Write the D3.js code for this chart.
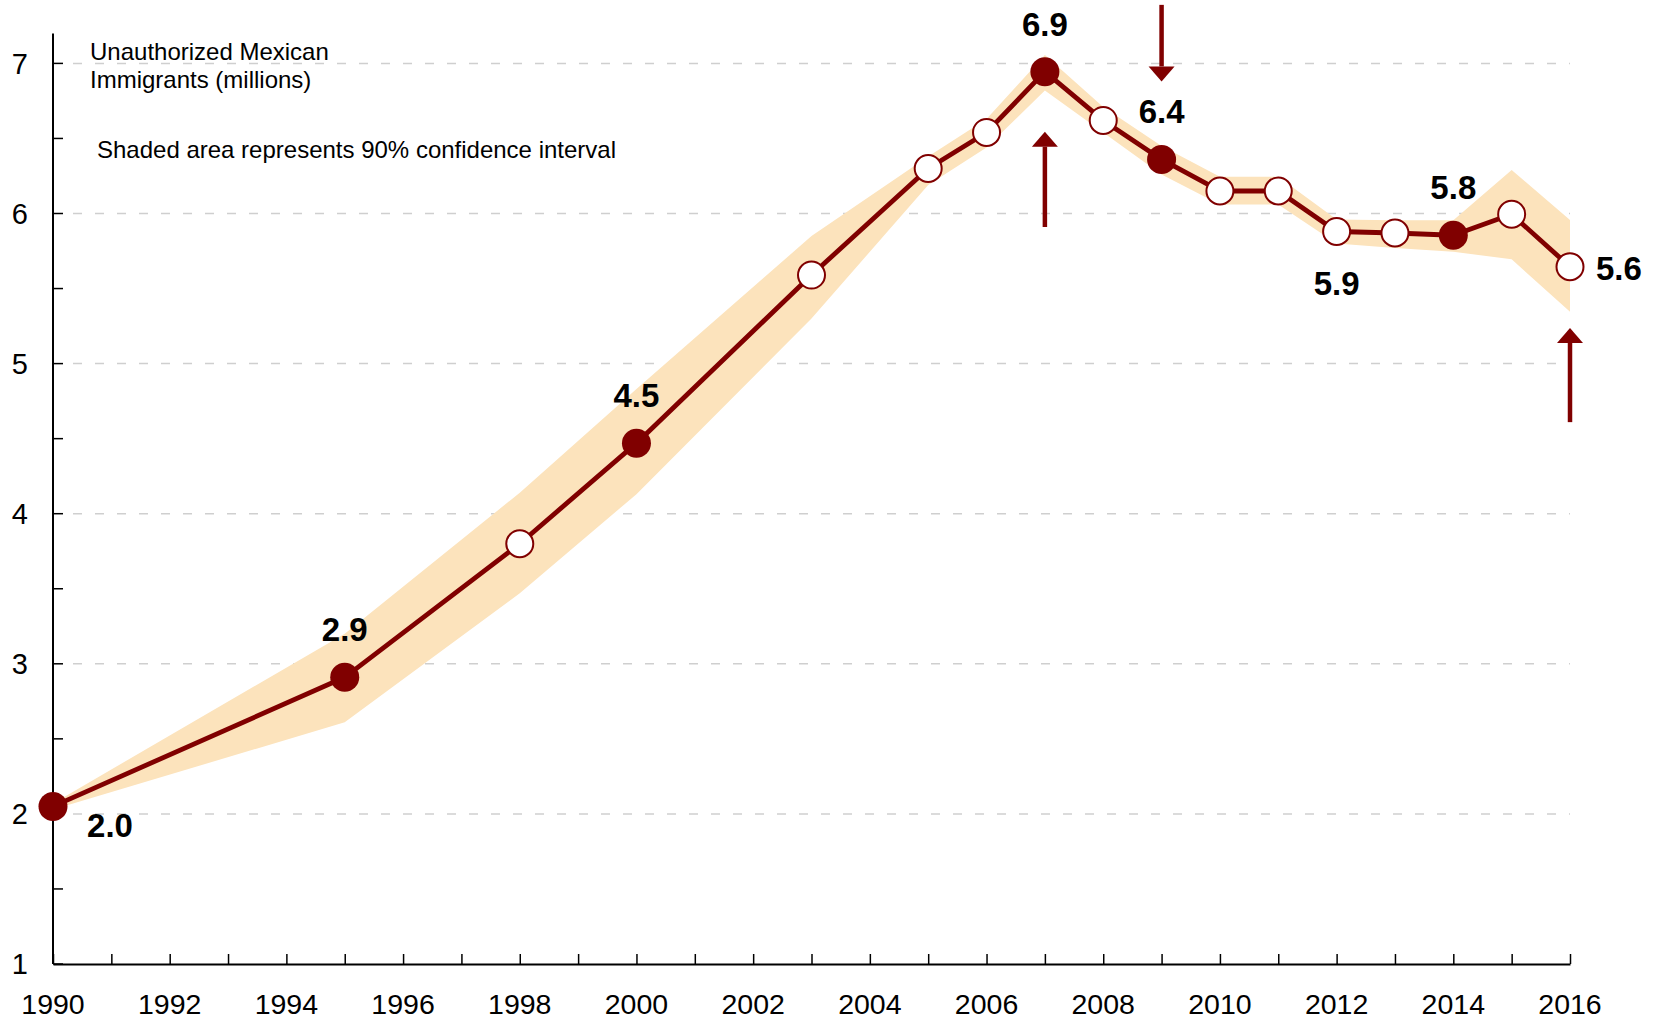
<!DOCTYPE html>
<html>
<head>
<meta charset="utf-8">
<script src="https://cdn.jsdelivr.net/npm/d3@7"></script>
<style>
  body { margin: 0; background: #fff; }
  svg { display: block; font-family: "Liberation Sans", Arial, Helvetica, sans-serif; }
</style>
</head>
<body>
<svg id="chart"></svg>
<script>
// data (millions)
var years =   [1990, 1995, 1998, 2000, 2003, 2005, 2006, 2007, 2008, 2009, 2010, 2011, 2012, 2013, 2014, 2015, 2016]
var values =  [2.05, 2.91, 3.80, 4.47, 5.59, 6.30, 6.54, 6.945, 6.62, 6.36, 6.15, 6.15, 5.88, 5.87, 5.855, 5.995, 5.645]
var lower =   [2.03, 2.61, 3.47, 4.13, 5.30, 6.19, 6.44, 6.82, 6.54, 6.26, 6.06, 6.06, 5.80, 5.77, 5.745, 5.695, 5.345]
var upper =   [2.07, 3.20, 4.14, 4.83, 5.85, 6.38, 6.63, 7.056, 6.71, 6.45, 6.245, 6.245, 5.96, 5.955, 5.955, 6.29, 5.957]
// highlighted years are drawn as solid dots
var solidYears = [1990, 1995, 2000, 2007, 2009, 2014]

var labelYears = [1990, 1995, 2000, 2007, 2009, 2012, 2014, 2016]
var labelTexts = ["2.0", "2.9", "4.5", "6.9", "6.4", "5.9", "5.8", "5.6"]
var labelSides = ["belowright", "above", "above", "above", "above", "below", "above", "right"]

// arrows: year, tail value, tip value
var arrowYears = [2009, 2007, 2016]
var arrowFrom =  [7.39, 5.91, 4.61]
var arrowTo =    [6.88, 6.545, 5.237]

var yTicks = [1, 2, 3, 4, 5, 6, 7]
var yMinor = [1.5, 2.5, 3.5, 4.5, 5.5, 6.5]
var xLabelYears = d3.range(1990, 2017, 2)

var titleLines = ["Unauthorized Mexican", "Immigrants (millions)"]
var noteText = "Shaded area represents 90% confidence interval"

var width = 1658
var height = 1022
var red = "#800000"

var svg = d3.select("#chart").attr("width", width).attr("height", height)

var x = d3.scaleLinear().domain([1990, 2016]).range([53, 1570])
var y = d3.scaleLinear().domain([1, 7]).range([964, 63.4])

var rows = years.map(function (yr, i) {
  return { year: yr, value: values[i], lo: lower[i], hi: upper[i], solid: solidYears.indexOf(yr) > -1 }
})

// gridlines
svg.append("g")
  .selectAll("line")
  .data(yTicks.slice(1))
  .enter().append("line")
    .attr("x1", x(1990) + 20).attr("x2", x(2016))
    .attr("y1", function (d) { return y(d) }).attr("y2", function (d) { return y(d) })
    .attr("stroke", "#cfcfcf").attr("stroke-width", 1.5)
    .attr("stroke-dasharray", "9,13")

// confidence band
var band = d3.area()
  .x(function (d) { return x(d.year) })
  .y0(function (d) { return y(d.lo) })
  .y1(function (d) { return y(d.hi) })

svg.append("path")
  .datum(rows)
  .attr("d", band)
  .attr("fill", "#fce3bc")

// axes
var xAxis = d3.axisBottom(x)
  .tickValues(d3.range(1990, 2017, 1))
  .tickSize(-10)
  .tickSizeOuter(0)
  .tickFormat("")

var gx = svg.append("g")
  .attr("transform", "translate(0," + y(1) + ")")
  .call(xAxis)
gx.select(".domain").attr("stroke", "#000").attr("stroke-width", 2)
gx.selectAll(".tick line").attr("stroke", "#000").attr("stroke-width", 1.5)

svg.append("g")
  .selectAll("text")
  .data(xLabelYears)
  .enter().append("text")
    .attr("x", function (d) { return x(d) })
    .attr("y", y(1) + 50)
    .attr("text-anchor", "middle")
    .attr("font-size", 28.5)
    .attr("fill", "#000")
    .text(function (d) { return d })

// y axis line reaches a little above 7
svg.append("line")
  .attr("x1", x(1990)).attr("x2", x(1990))
  .attr("y1", y(1)).attr("y2", y(7.2))
  .attr("stroke", "#000").attr("stroke-width", 2)

svg.append("g")
  .selectAll("line")
  .data(yTicks.concat(yMinor))
  .enter().append("line")
    .attr("x1", x(1990)).attr("x2", x(1990) + 10)
    .attr("y1", function (d) { return y(d) }).attr("y2", function (d) { return y(d) })
    .attr("stroke", "#000").attr("stroke-width", 1.5)

svg.append("g")
  .selectAll("text")
  .data(yTicks)
  .enter().append("text")
    .attr("x", 28)
    .attr("y", function (d) { return y(d) })
    .attr("dy", "0.35em")
    .attr("text-anchor", "end")
    .attr("font-size", 29)
    .attr("fill", "#000")
    .text(function (d) { return d })

// main line
var line = d3.line()
  .x(function (d) { return x(d.year) })
  .y(function (d) { return y(d.value) })

svg.append("path")
  .datum(rows)
  .attr("d", line)
  .attr("fill", "none")
  .attr("stroke", red)
  .attr("stroke-width", 4.8)
  .attr("stroke-linejoin", "round")

svg.append("g")
  .selectAll("circle")
  .data(rows)
  .enter().append("circle")
    .attr("cx", function (d) { return x(d.year) })
    .attr("cy", function (d) { return y(d.value) })
    .attr("r", function (d) { return d.solid ? 14.5 : 13.5 })
    .attr("fill", function (d) { return d.solid ? red : "#fff" })
    .attr("stroke", red)
    .attr("stroke-width", function (d) { return d.solid ? 0 : 2 })

// value labels
svg.append("g")
  .selectAll("text")
  .data(labelYears)
  .enter().append("text")
    .attr("x", function (d, i) {
      var px = x(d)
      if (labelSides[i] == "right") return px + 26
      if (labelSides[i] == "belowright") return px + 57
      return px
    })
    .attr("y", function (d, i) {
      var py = y(values[years.indexOf(d)])
      if (labelSides[i] == "above") return py - 36
      if (labelSides[i] == "below") return py + 63
      if (labelSides[i] == "right") return py + 13
      return py + 31
    })
    .attr("text-anchor", function (d, i) { return labelSides[i] == "right" ? "start" : "middle" })
    .attr("font-size", 33)
    .attr("font-weight", "bold")
    .attr("fill", "#000")
    .text(function (d, i) { return labelTexts[i] })

// arrows
var arrows = svg.append("g")
arrowYears.forEach(function (yr, i) {
  var ax = x(yr)
  var y0 = y(arrowFrom[i])
  var y1 = y(arrowTo[i])
  var dir = y1 > y0 ? 1 : -1
  var headLen = 15
  arrows.append("line")
    .attr("x1", ax).attr("x2", ax)
    .attr("y1", y0).attr("y2", y1 - dir * headLen)
    .attr("stroke", red).attr("stroke-width", 4.5)
  arrows.append("path")
    .attr("d", "M" + (ax - 13) + "," + (y1 - dir * headLen) + "L" + (ax + 13) + "," + (y1 - dir * headLen) + "L" + ax + "," + y1 + "Z")
    .attr("fill", red)
})

// title and note
svg.append("text")
  .attr("x", 90)
  .attr("y", 60)
  .attr("font-size", 24)
  .attr("fill", "#000")
  .selectAll("tspan")
  .data(titleLines)
  .enter().append("tspan")
    .attr("x", 90)
    .attr("dy", function (d, i) { return i == 0 ? 0 : 27.5 })
    .text(function (d) { return d })

svg.append("text")
  .attr("x", 97)
  .attr("y", 158)
  .attr("font-size", 24)
  .attr("fill", "#000")
  .text(noteText)
</script>
</body>
</html>
